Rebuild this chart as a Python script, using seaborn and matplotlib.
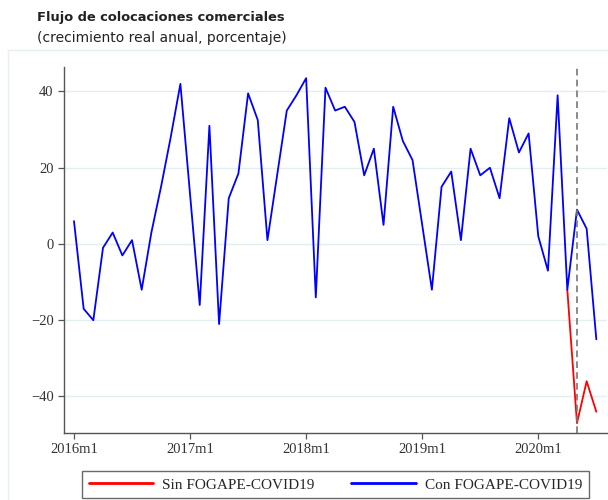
import pandas as pd
import seaborn as sns
import matplotlib.pyplot as plt
from matplotlib.patches import Rectangle

# Datos: crecimiento real anual (%) del flujo de colocaciones comerciales
years = [2016, 2017, 2018, 2019, 2020]
months = [f"{y}m{m}" for y in years for m in range(1, 13)][:55]

con_fogape = [6, -17, -20, -1, 3, -3, 1, -12, 3, 15, 28, 42,
              13, -16, 31, -21, 12, 18.5, 39.5, 32.5, 1, 18, 35, 39,
              43.5, -14, 41, 35, 36, 32, 18, 25, 5, 36, 27, 22,
              5, -12, 15, 19, 1, 25, 18, 20, 12, 33, 24, 29,
              2, -7, 39, -12, 9, 4, -25]
sin_fogape = [None] * 51 + [-12, -47, -36, -44]

tick_labels = ["2016m1", "2017m1", "2018m1", "2019m1", "2020m1"]
y_ticks = [-40, -20, 0, 20, 40]
covid_month = "2020m5"

lab_sin = "Sin FOGAPE-COVID19"
lab_con = "Con FOGAPE-COVID19"

df = pd.DataFrame({
    "mes": months * 2,
    "t": list(range(len(months))) * 2,
    "valor": sin_fogape + con_fogape,
    "serie": [lab_sin] * len(months) + [lab_con] * len(months),
}).dropna()

sns.set_style("white")
plt.rcParams["font.family"] = ["DejaVu Sans"]

fig = plt.figure(figsize=(6.08, 5.0), dpi=100)
ax = fig.add_axes([0.1053, 0.1346, 0.893, 0.732])

# marco tenue de la región del gráfico
fig.patches.append(Rectangle((8 / 608, -0.01), 1.0, 0.91, transform=fig.transFigure,
                             fill=False, edgecolor="#e6eef0", linewidth=1.0))

sns.lineplot(data=df, x="t", y="valor", hue="serie", hue_order=[lab_sin, lab_con],
             palette={lab_sin: "#ff0000", lab_con: "#0000ff"}, linewidth=1.3, ax=ax)

ax.axvline(months.index(covid_month), color="#777777", linestyle=(0, (4, 2.5)), linewidth=1.2)

ax.set_xlim(-1.03, 55.1)
ax.set_ylim(-49.5, 46.5)
ax.set_xticks([months.index(l) for l in tick_labels])
ax.set_xticklabels(tick_labels)
ax.set_yticks(y_ticks)
ax.set_xlabel("")
ax.set_ylabel("")
ax.grid(axis="y", color="#e2eef0", linewidth=1.0)
ax.set_axisbelow(True)

for s in ["top", "right"]:
    ax.spines[s].set_visible(False)
for s in ["left", "bottom"]:
    ax.spines[s].set_color("#555555")
    ax.spines[s].set_linewidth(1.0)
ax.tick_params(axis="both", direction="out", length=4, width=0.9, color="#555555",
               labelsize=10.5, labelcolor="#333333", left=True, bottom=True)
for lbl in ax.get_xticklabels() + ax.get_yticklabels():
    lbl.set_family("Liberation Serif")

handles, labels = ax.get_legend_handles_labels()
ax.get_legend().remove()
leg = fig.legend(handles, labels, loc="upper center", bbox_to_anchor=(335.5 / 608, 1 - 471 / 500),
                 ncol=2, frameon=True, fancybox=False, handlelength=4.2, handletextpad=0.6,
                 columnspacing=2.4, borderpad=0.45, borderaxespad=0.0,
                 prop={"family": "Liberation Serif", "size": 11})
leg.get_frame().set_edgecolor("#444444")
leg.get_frame().set_linewidth(1.0)
for h in leg.get_lines():
    h.set_linewidth(2.0)

fig.text(37 / 608, 1 - 18 / 500, "Flujo de colocaciones comerciales", fontsize=9.4,
         fontweight="bold", color="#222222", va="center", ha="left")
fig.text(37 / 608, 1 - 38 / 500, "(crecimiento real anual, porcentaje)", fontsize=10,
         color="#222222", va="center", ha="left")

fig.savefig("out.png", dpi=100)
